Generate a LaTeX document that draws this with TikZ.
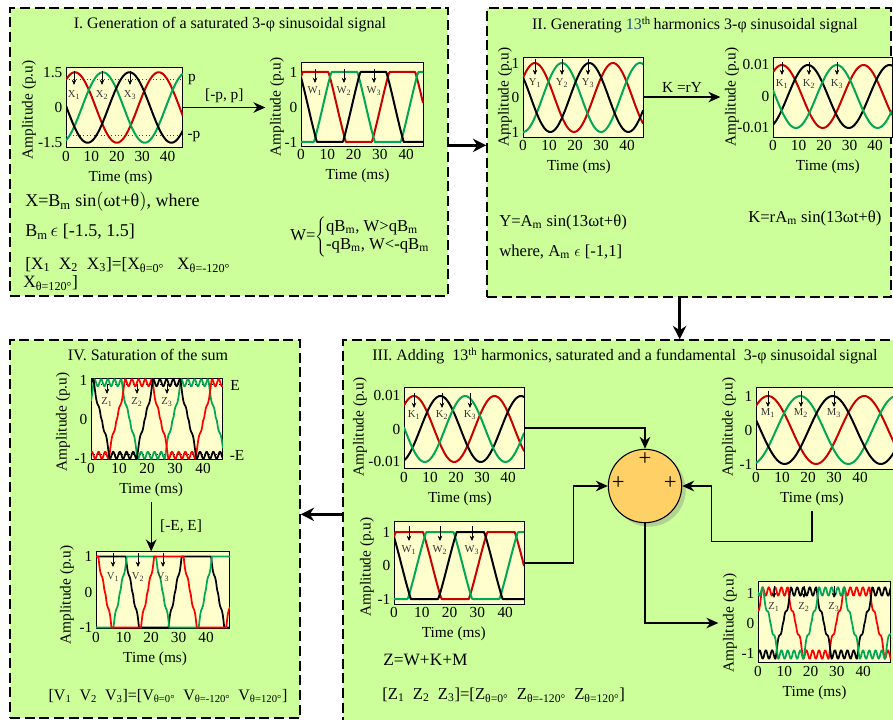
\documentclass[tikz,border=0pt]{standalone}
\usepackage{fontspec}
\setmainfont{Liberation Serif}
\usepackage{tikz}
\usetikzlibrary{arrows.meta, fit, shadows, positioning}

\definecolor{panelgreen}{RGB}{204,255,153}
\definecolor{plotcream}{RGB}{255,255,206}
\definecolor{sigred}{RGB}{200,0,0}
\definecolor{hotred}{RGB}{255,0,0}
\definecolor{siggreen}{RGB}{0,168,84}
\definecolor{sumfill}{RGB}{255,208,102}
\definecolor{thblue}{RGB}{31,73,125}
\definecolor{pblue}{RGB}{40,60,160}

\tikzset{
  declare function={
    ang(\tm,\ph,\pr)=360/\pr*(\tm-\ph);
    sw(\tm,\ph,\pr)=cos(ang(\tm,\ph,\pr));
    sat(\tm,\ph,\pr)=max(-1,min(1,1.7*cos(ang(\tm,\ph,\pr))));
    zig(\tm,\ph,\pr)=0.5*max(-1,min(1,4*cos(ang(\tm,\ph,\pr))-1.2))+0.5*max(-1,min(1,4*cos(ang(\tm,\ph,\pr))+1.2));
    rip(\tm,\ph,\pr)=cos(13*ang(\tm,\ph,\pr));
  },
  panel/.style={draw, dash pattern=on 7.5pt off 3.5pt, line width=1.1pt, fill=panelgreen, inner sep=0pt},
  plotbox/.style={draw, fill=plotcream, line width=0.7pt, inner sep=0pt},
  tick/.style={font=\fontsize{11.5}{12}\selectfont, inner sep=2.5pt},
  lbl/.style={font=\fontsize{11.5}{12}\selectfont},
  ttl/.style={font=\fontsize{12}{14}\selectfont},
  eqn/.style={font=\fontsize{12.5}{15}\selectfont, anchor=west, inner sep=0pt},
  sub/.style={font=\fontsize{8}{8}\selectfont, inner sep=0pt, text=black!80},
  pin/.style={-{Stealth[length=4pt,width=3.5pt]}, line width=0.6pt},
  wred/.style={draw=sigred, line width=1.5pt, line join=round},
  wgreen/.style={draw=siggreen, line width=1.5pt, line join=round},
  wblack/.style={draw=black, line width=1.5pt, line join=round},
  zred/.style={draw=hotred, line width=1.3pt, line join=round},
  zgreen/.style={draw=siggreen, line width=1.3pt, line join=round},
  zblack/.style={draw=black, line width=1.3pt, line join=round},
  pdot/.style={draw=pblue, dotted, line width=0.6pt},
  edot/.style={draw=black, dotted, line width=0.6pt},
  link/.style={line width=0.9pt, -{Stealth[length=9pt,width=8pt]}},
  flow/.style={line width=2.2pt, -{Stealth[length=10pt,width=10pt]}},
  sumnode/.style={circle, draw, line width=0.8pt, fill=sumfill, minimum size=55pt,
    drop shadow={shadow xshift=3pt, shadow yshift=-3pt, opacity=0.35}},
  plus/.style={font=\fontsize{17}{17}\selectfont, inner sep=0pt},
}

% frame of one plot: name, x0, y0 (pixel of t=0, amplitude 0), px per ms, px per unit, t max, y low, y high
\newcommand{\plotframe}[8]{%
  \def\fx{#2}\def\fy{#3}\def\fsx{#4}\def\fsy{#5}\def\ftm{#6}\def\flo{#7}\def\fhi{#8}%
  \node[plotbox, fit={(#2,{#3-(#8)*#5}) ({#2+#6*#4},{#3-(#7)*#5})}] (#1) {};
  \foreach \k in {0,10,...,40}
    \node[tick, below] (#1x\k) at ({#2+\k*#4},{#3-(#7)*#5}) {\k};
  \node[lbl] (#1time) at ({#2+21.5*#4},{#3-(#7)*#5+30}) {Time (ms)};
}
\newcommand{\sigcurves}[1]{%
  \begin{scope}
    \clip (\fx,{\fy-(\fhi)*\fsy}) rectangle ({\fx+\ftm*\fsx},{\fy-(\flo)*\fsy});
    \begin{scope}[shift={(\fx,\fy)}, xscale=\fsx, yscale=-\fsy]
      #1
    \end{scope}
  \end{scope}}
\newcommand{\yticks}[3]{%
  \node[tick, left] (#1yt) at (\fx,{\fy-\fsy}) {#2};
  \node[tick, left] (#1ym) at (\fx,\fy) {0};
  \node[tick, left] (#1yb) at (\fx,{\fy+\fsy}) {#3};}
\newcommand{\pins}[8]{%
  \foreach \i/\xx in {1/#3,2/#4,3/#5}{
    \draw[pin] (\xx,#6) -- (\xx,#7);
    \node[sub] (#1\i) at (\xx,#8) {#2\textsubscript{\i}};}}

\begin{document}
\begin{tikzpicture}[x=0.75pt, y=-0.75pt]
\useasboundingbox (0,0) rectangle (893,720);
\fill[white] (0,0) rectangle (893,720);

% panels
\node[panel, fit={(10,8) (448,296)}] (P1) {};
\node[panel, fit={(487,8) (891,297)}] (P2) {};
\node[panel, fit={(343,340) (900,726)}] (P3) {};
\node[panel, fit={(10,340) (300,718)}] (P4) {};

\node[ttl] (T1) at (230,25) {I. Generation of a saturated 3-φ sinusoidal signal};
\node[ttl] (T2) at (695,25) {II. Generating \textcolor{thblue}{13}\textsuperscript{th}\,harmonics 3-φ sinusoidal signal};
\node[ttl] (T3) at (625,356) {III. Adding\ \ 13\textsuperscript{th} harmonics, saturated and a fundamental\ \ 3-φ sinusoidal signal};
\node[ttl] (T4) at (148,355) {IV. Saturation of the sum};

% I. X
\plotframe{pX}{66}{107.5}{2.54}{35.25}{46}{-1.135}{1.135}
\sigcurves{
  \draw[pdot] (0,0.8) -- (46,0.8) (0,-0.8) -- (46,-0.8);
  \draw[wred] plot[domain=0:\ftm, samples=80] (\x,{sw(\x,3.5,33)});
  \draw[wgreen] plot[domain=0:\ftm, samples=80] (\x,{sw(\x,14.5,33)});
  \draw[wblack] plot[domain=0:\ftm, samples=80] (\x,{sw(\x,25,33)});
}
\yticks{pX}{1.5}{-1.5}
\node[lbl, rotate=90] (pXamp) at (29,110) {Amplitude (p.u)};
\pins{mX}{X}{74}{102}{130}{71}{85}{95}
\node[lbl] (pp) at (192,80) {p};
\node[lbl] (mp) at (194,137) {-p};

% I. W
\plotframe{pW}{301}{107}{2.63}{35}{46.4}{-1.12}{1.26}
\sigcurves{
  \draw[wred] plot[domain=0:\ftm, samples=140] (\x,{sat(\x,5.5,33)});
  \draw[wgreen] plot[domain=0:\ftm, samples=140] (\x,{sat(\x,16.5,33)});
  \draw[wblack] plot[domain=0:\ftm, samples=140] (\x,{sat(\x,27.5,33)});
}
\yticks{pW}{1}{-1}
\node[lbl, rotate=90] (pWamp) at (277,107) {Amplitude (p.u)};
\pins{mW}{W}{315}{344}{374}{69}{83}{91}
\draw[link] (pX.east) -- (pX.east -| pWamp.north) node[midway, above, lbl] (lblP) {[-p, p]};

\node[eqn, font=\fontsize{13.5}{15}\selectfont] (eqX) at (25,202) {X=B\textsubscript{m} sin$\bigl($ωt+θ$\bigr)$, where};
\node[eqn, font=\fontsize{13.5}{15}\selectfont] (eqB) at (25,232) {B\textsubscript{m}\,$\epsilon$ [-1.5, 1.5]};
\node[eqn, font=\fontsize{13}{15}\selectfont] (eqX3) at (25,265) {[X\textsubscript{1}\ \ X\textsubscript{2}\ \ X\textsubscript{3}]=[X\textsubscript{θ=0°}\ \ \ X\textsubscript{θ=-120°}};
\node[eqn, font=\fontsize{13}{15}\selectfont] (eqX3b) at (23,283) {X\textsubscript{θ=120°}]};
\node[eqn] (eqW) at (290,237) {W=$\left\{\def\arraystretch{0.9}\begin{tabular}{@{}l@{}}qB\textsubscript{m}, W>qB\textsubscript{m}\\-qB\textsubscript{m}, W<-qB\textsubscript{m}\end{tabular}\right.$};

% II. Y
\plotframe{pY}{523}{97.5}{2.6}{34.5}{46.2}{-1.145}{1.17}
\sigcurves{
  \draw[wred] plot[domain=0:\ftm, samples=80] (\x,{sw(\x,4.6,30)});
  \draw[wgreen] plot[domain=0:\ftm, samples=80] (\x,{sw(\x,15,30)});
  \draw[wblack] plot[domain=0:\ftm, samples=80] (\x,{sw(\x,25.5,30)});
}
\yticks{pY}{1}{-1}
\node[lbl, rotate=90] (pYamp) at (505,97) {Amplitude (p.u)};
\pins{mY}{Y}{535}{562}{588}{59}{75}{83}

% II. K
\plotframe{pK}{773}{96.5}{2.55}{31.5}{46.7}{-1.29}{1.25}
\sigcurves{
  \draw[wred] plot[domain=0:\ftm, samples=80] (\x,{sw(\x,3.5,32)});
  \draw[wblack] plot[domain=0:\ftm, samples=80] (\x,{sw(\x,13.7,32)});
  \draw[wgreen] plot[domain=0:\ftm, samples=80] (\x,{sw(\x,25,32)});
}
\yticks{pK}{0.01}{-0.01}
\node[lbl, rotate=90] (pKamp) at (732,97) {Amplitude (p.u)};
\pins{mK}{K}{782}{809}{837}{62}{75}{84}
\draw[link] (pY.east) -- (pY.east -| pKamp.north) node[midway, above, lbl] (lblK) {K =rY};

\node[eqn] (eqY) at (499,222) {Y=A\textsubscript{m} sin(13ωt+θ)};
\node[eqn] (eqA) at (499,252) {where, A\textsubscript{m} $\epsilon$ [-1,1]};
\node[eqn] (eqK) at (748,218) {K=rA\textsubscript{m} sin(13ωt+θ)};

% III. K, W, M and the sum
\plotframe{pKs}{404}{429}{2.6}{33}{46.2}{-1.21}{1.27}
\sigcurves{
  \draw[wred] plot[domain=0:\ftm, samples=80] (\x,{sw(\x,3.8,31)});
  \draw[wblack] plot[domain=0:\ftm, samples=80] (\x,{sw(\x,14,31)});
  \draw[wgreen] plot[domain=0:\ftm, samples=80] (\x,{sw(\x,23.5,31)});
}
\yticks{pKs}{0.01}{-0.01}
\node[lbl, rotate=90] (pKsamp) at (360,427) {Amplitude (p.u)};
\pins{mKs}{K}{414}{442}{470}{393}{408}{415}

\plotframe{pWs}{394}{565.5}{2.78}{33.5}{46.8}{-1.15}{1.3}
\sigcurves{
  \draw[wred] plot[domain=0:\ftm, samples=140] (\x,{sat(\x,5.5,33)});
  \draw[wgreen] plot[domain=0:\ftm, samples=140] (\x,{sat(\x,16.5,33)});
  \draw[wblack] plot[domain=0:\ftm, samples=140] (\x,{sat(\x,27.5,33)});
}
\yticks{pWs}{1}{-1}
\node[lbl, rotate=90] (pWsamp) at (367,567) {Amplitude (p.u)};
\pins{mWs}{W}{409}{440}{472}{526}{541}{550}

\plotframe{pM}{756}{430}{2.6}{34}{53}{-1.15}{1.26}
\sigcurves{
  \draw[wred] plot[domain=0:\ftm, samples=90] (\x,{sw(\x,4.6,37)});
  \draw[wgreen] plot[domain=0:\ftm, samples=90] (\x,{sw(\x,17,37)});
  \draw[wblack] plot[domain=0:\ftm, samples=90] (\x,{sw(\x,29.5,37)});
}
\yticks{pM}{1}{-1}
\node[lbl, rotate=90] (pMamp) at (729,427) {Amplitude (p.u)};
\pins{mM}{M}{768}{801}{834}{391}{407}{413}

\plotframe{pZ}{758}{623}{2.63}{30}{50.5}{-1.33}{1.4}
\sigcurves{
  \draw[zred] plot[domain=0:\ftm, samples=400] (\x,{1.05*zig(\x,6.5,31)+0.14*rip(\x,6.5,31)});
  \draw[zblack] plot[domain=0:\ftm, samples=400] (\x,{1.05*zig(\x,17.3,31)+0.14*rip(\x,17.3,31)});
  \draw[zgreen] plot[domain=0:\ftm, samples=400] (\x,{1.05*zig(\x,28,31)+0.14*rip(\x,28,31)});
}
\yticks{pZ}{1}{-1}
\node[lbl, rotate=90] (pZamp) at (730,623) {Amplitude (p.u)};
\pins{mZ}{Z}{774}{804}{834}{586}{598}{607}

\node[sumnode] (sum) at (645,486) {};
\node[plus] (plT) at ([yshift=20pt]sum.center) {+};
\node[plus] (plL) at ([xshift=-20pt,yshift=2pt]sum.center) {+};
\node[plus] (plR) at ([xshift=19pt,yshift=2pt]sum.center) {+};

\draw[link] (pKs.east) -| (sum.north);
\draw[link] (pWs.east) -- ++(49,0) |- (sum.west);
\draw[link] (pMtime.south) -- ++(0,31) -| ([xshift=22pt]sum.east) -- (sum.east);
\draw[link] (sum.south) |- (pZamp.north);

\node[eqn, font=\fontsize{13}{15}\selectfont] (eqZ) at (383,660) {Z=W+K+M};
\node[eqn] (eqZ3) at (382,695) {[Z\textsubscript{1}\ \ Z\textsubscript{2}\ \ Z\textsubscript{3}]=[Z\textsubscript{θ=0°}\ \ Z\textsubscript{θ=-120°}\ \ Z\textsubscript{θ=120°}]};

% IV. Z and V
\plotframe{pZs}{91}{419}{2.8}{39}{47.1}{-1.05}{1.05}
\sigcurves{
  \draw[edot] (0,0.9) -- (\ftm,0.9) (0,-0.9) -- (\ftm,-0.9);
  \draw[zgreen] plot[domain=0:\ftm, samples=400] (\x,{0.93*zig(\x,6,31)+0.09*rip(\x,6,31)});
  \draw[zred] plot[domain=0:\ftm, samples=400] (\x,{0.93*zig(\x,17,31)+0.09*rip(\x,17,31)});
  \draw[zblack] plot[domain=0:\ftm, samples=400] (\x,{0.93*zig(\x,27,31)+0.09*rip(\x,27,31)});
}
\yticks{pZs}{1}{-1}
\node[lbl, rotate=90] (pZsamp) at (63,422) {Amplitude (p.u)};
\pins{mZs}{Z}{107}{137}{167}{384}{394}{402}
\node[lbl] (eE) at (235,385) {E};
\node[lbl] (mE) at (237,455) {-E};

\plotframe{pV}{96}{592}{2.75}{35.5}{48.7}{-1.03}{1.13}
\sigcurves{
  \draw[zblack] plot[domain=0:\ftm, samples=400] (\x,{max(-1,min(1,1.3*(0.93*zig(\x,5.5,31)+0.09*rip(\x,5.5,31))))});
  \draw[zgreen] plot[domain=0:\ftm, samples=400] (\x,{max(-1,min(1,1.3*(0.93*zig(\x,16.5,31)+0.09*rip(\x,16.5,31))))});
  \draw[zred] plot[domain=0:\ftm, samples=400] (\x,{max(-1,min(1,1.3*(0.93*zig(\x,26.5,31)+0.09*rip(\x,26.5,31))))});
}
\yticks{pV}{1}{-1}
\node[lbl, rotate=90] (pVamp) at (67,595) {Amplitude (p.u)};
\pins{mV}{V}{113}{138}{163}{553}{567}{577}
\draw[link] (pZstime.south) -- (pZstime.south |- pV.north) node[midway, right=3pt, lbl] (lblE) {[-E, E]};

\node[eqn, anchor=center, font=\fontsize{12}{15}\selectfont] (eqV) at (168,696) {[V\textsubscript{1}\ \ V\textsubscript{2}\ \ V\textsubscript{3}]=[V\textsubscript{θ=0°}\ \ V\textsubscript{θ=-120°}\ \ V\textsubscript{θ=120°}]};

% between panels
\coordinate (c12) at ([yshift=5pt]P1.east);
\draw[flow] (c12) -- (c12 -| P2.west);
\coordinate (c23) at ([xshift=-7pt]P2.south);
\draw[flow] (c23) -- (c23 |- P3.north);
\coordinate (c34) at ([yshift=14pt]P3.west);
\draw[flow] (c34) -- (c34 -| P4.east);
\end{tikzpicture}
\end{document}
